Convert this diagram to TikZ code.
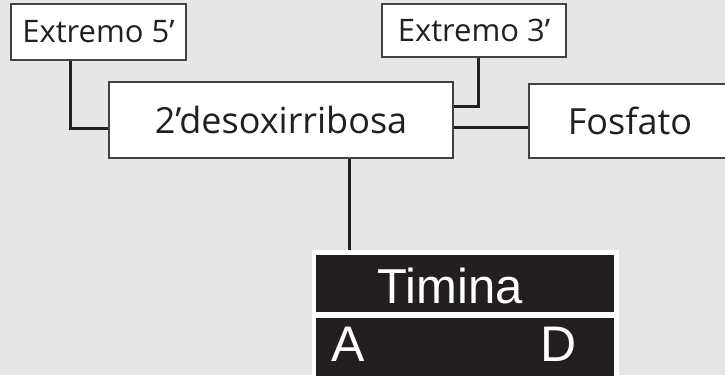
\documentclass[tikz,border=0pt]{standalone}
\usepackage{fontspec}
\setmainfont{Open Sans}
\newfontfamily\arialf{Liberation Sans}
\usetikzlibrary{calc}
\definecolor{bg}{HTML}{E6E6E6}
\definecolor{ink}{HTML}{231F20}
\begin{document}
\begin{tikzpicture}[x=1pt,y=-1pt,
  box/.style={draw=ink!85, line width=1.6pt, fill=white, inner sep=0pt, text=ink},
  conn/.style={draw=ink, line width=3pt},
  blk/.style={fill=ink, draw=none, inner sep=0pt, text=white}]
\useasboundingbox (0,0) rectangle (725,375);
\clip (0,0) rectangle (725,375);
\fill[bg] (0,0) rectangle (725,375);
% boxes
\node[box, minimum width=175pt, minimum height=56pt, font=\fontsize{31}{34}\selectfont] (e5) at (98.5,32) {Extremo 5’};
\node[box, minimum width=344pt, minimum height=76pt, font=\fontsize{36}{40}\selectfont] (des) at (281,120) {2’desoxirribosa};
\node[box, minimum width=184pt, minimum height=53pt, font=\fontsize{31}{34}\selectfont] (e3) at (474,30.5) {Extremo 3’};
\node[box, minimum width=212pt, minimum height=74pt, anchor=west] (fos) at (528,121) {};
\node[text=ink, font=\fontsize{36}{40}\selectfont] (fost) at (630,121) {Fosfato};
% Timina block
\node[fill=white, minimum width=307pt, minimum height=130pt, inner sep=0pt, anchor=north west] (tw) at (312,250) {};
\node[blk, minimum width=298pt, minimum height=57pt, anchor=north west] (tim) at (316,255) {};
\node[text=white, font=\arialf\fontsize{49}{52}\selectfont] (timt) at (450,286) {Timina};
\node[blk, minimum width=298pt, minimum height=60pt, anchor=north west] (ad) at (316,318) {};
\node[text=white, font=\arialf\fontsize{50}{54}\selectfont, anchor=west] (at) at (328,344) {A};
\node[text=white, font=\arialf\fontsize{50}{54}\selectfont, anchor=west] (dt) at (537,344) {D};
% connectors
\coordinate (c5) at ($(e5.south west)+(60,0)$);
\draw[conn] (c5) |- ($(des.west)+(0,8)$);
\coordinate (c3) at ($(e3.south)+(4,0)$);
\draw[conn] (c3) |- ($(des.east)+(0,-14)$);
\draw[conn] ($(des.east)+(0,7)$) -- ($(fos.west)+(0,6)$);
\draw[conn] ($(des.south)+(68,0)$) -- ($(tw.north west)+(37,0)$);
\end{tikzpicture}
\end{document}
